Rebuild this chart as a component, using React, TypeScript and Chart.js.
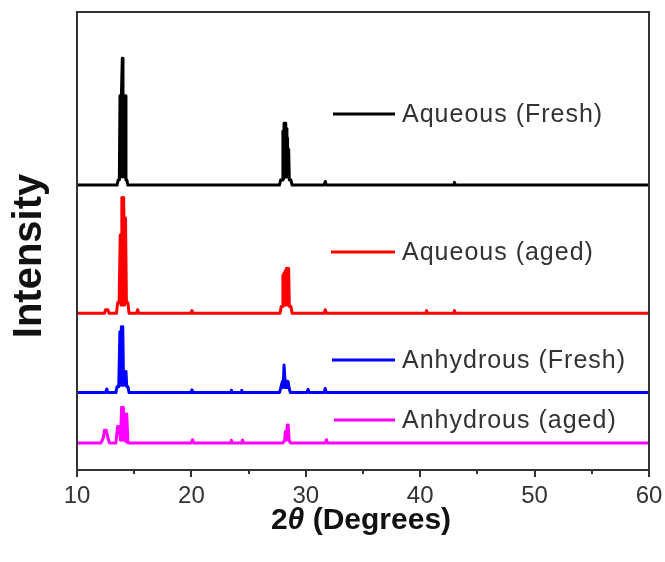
import React, { useEffect, useRef } from "react";
import { Chart, registerables } from "chart.js";

Chart.register(...registerables);

// 2θ (degrees), offset intensity (a.u.)
const aqueousFresh: [number, number][] = [
  [10, 62.2], [13.5, 62.2], [13.6, 63.3], [13.7, 63.3],
  [13.76, 81.7], [13.82, 64], [13.88, 81.7], [13.96, 89.9], [14.02, 64],
  [14.08, 81.7], [14.14, 64], [14.22, 81.7], [14.28, 63.3], [14.36, 63.3], [14.45, 62.2],
  [27.7, 62.2], [27.8, 63.3], [27.95, 63.3], [28.0, 74], [28.05, 63.5],
  [28.1, 75.7], [28.15, 64], [28.2, 75.7], [28.25, 64], [28.3, 74.5], [28.35, 64],
  [28.4, 72.5], [28.45, 64], [28.5, 70], [28.56, 63.3], [28.7, 63.3], [28.8, 62.2],
  [31.6, 62.2], [31.7, 63.0], [31.8, 62.2],
  [42.95, 62.2], [43.0, 62.8], [43.05, 62.2], [60, 62.2],
];

const aqueousAged: [number, number][] = [
  [10, 34.2], [12.4, 34.2], [12.5, 35.0], [12.7, 35.0], [12.8, 34.2],
  [13.45, 34.2], [13.55, 36.5], [13.68, 36.5], [13.78, 51.3], [13.85, 36],
  [13.92, 59.5], [14.0, 36], [14.08, 59.5], [14.16, 36], [14.24, 55], [14.32, 36.5],
  [14.45, 36.5], [14.55, 34.2], [15.2, 34.2], [15.3, 35], [15.4, 34.2],
  [19.95, 34.2], [20.05, 34.8], [20.15, 34.2],
  [27.75, 34.2], [27.85, 35.7], [27.95, 35.7], [28.0, 42.6], [28.05, 36],
  [28.1, 43], [28.15, 36], [28.2, 43.5], [28.25, 36], [28.3, 44], [28.35, 36],
  [28.4, 44], [28.45, 36], [28.5, 44], [28.56, 35.7], [28.7, 35.7], [28.8, 34.2],
  [31.6, 34.2], [31.7, 35.0], [31.8, 34.2],
  [40.5, 34.2], [40.56, 34.8], [40.62, 34.2],
  [42.95, 34.2], [43.0, 34.8], [43.05, 34.2], [60, 34.2],
];

const anhydrousFresh: [number, number][] = [
  [10, 16.9], [12.5, 16.9], [12.6, 17.7], [12.7, 16.9],
  [13.4, 16.9], [13.5, 18.2], [13.65, 18.2], [13.75, 30.2], [13.82, 18.5],
  [13.88, 31.3], [13.95, 18.5], [14.0, 31.3], [14.07, 18.5], [14.15, 21.5],
  [14.22, 18.5], [14.28, 21.5], [14.35, 18.2], [14.45, 18.2], [14.55, 16.9],
  [19.95, 16.9], [20.05, 17.5], [20.15, 16.9],
  [23.45, 16.9], [23.5, 17.4], [23.55, 16.9],
  [24.35, 16.9], [24.4, 17.4], [24.45, 16.9],
  [27.7, 16.9], [27.8, 17.8], [27.95, 19.3], [28.02, 18], [28.1, 22.9],
  [28.16, 22.9], [28.22, 18], [28.3, 19.5], [28.38, 18], [28.45, 19.3],
  [28.55, 17.8], [28.65, 16.9],
  [30.1, 16.9], [30.2, 17.6], [30.3, 16.9],
  [31.6, 16.9], [31.7, 17.8], [31.8, 16.9], [60, 16.9],
];

const anhydrousAged: [number, number][] = [
  [10, 5.9], [12.1, 5.9], [12.3, 7.0], [12.4, 8.7], [12.55, 8.7], [12.7, 7.0],
  [12.85, 5.9], [13.4, 5.9], [13.55, 9.5], [13.7, 9.5], [13.8, 6.5],
  [13.9, 13.7], [13.98, 6.5], [14.05, 13.7], [14.12, 6.5], [14.2, 12.2],
  [14.28, 6.2], [14.35, 12.2], [14.45, 5.9],
  [20.0, 5.9], [20.1, 6.6], [20.2, 5.9],
  [23.45, 5.9], [23.5, 6.5], [23.55, 5.9],
  [24.4, 5.9], [24.45, 6.5], [24.5, 5.9],
  [28.0, 5.9], [28.15, 6.5], [28.22, 8.4], [28.3, 6.5], [28.38, 9.8],
  [28.46, 9.8], [28.55, 6.5], [28.65, 5.9],
  [31.7, 5.9], [31.8, 6.6], [31.9, 5.9], [60, 5.9],
];

const seriesNames = ["Aqueous (Fresh)", "Aqueous (aged)", "Anhydrous (Fresh)", "Anhydrous (aged)"];
const seriesColors = ["#000000", "#ff0000", "#0000ff", "#ff00ff"];
const seriesData = [aqueousFresh, aqueousAged, anhydrousFresh, anhydrousAged];

const majorTicks = [10, 20, 30, 40, 50, 60];
const minorTicks = [15, 25, 35, 45, 55];

const FONT = "'Liberation Sans', Arial, sans-serif";

const decorPlugin = {
  id: "decor",
  afterDraw(chart: any) {
    const { ctx, chartArea: a, scales } = chart;
    const xs = scales.x;
    ctx.save();
    // frame
    ctx.strokeStyle = "#333333";
    ctx.lineWidth = 2;
    ctx.strokeRect(a.left, a.top, a.right - a.left, a.bottom - a.top);
    // ticks (outward)
    ctx.beginPath();
    majorTicks.forEach((v) => {
      const px = Math.round(xs.getPixelForValue(v));
      ctx.moveTo(px, a.bottom);
      ctx.lineTo(px, a.bottom + 7);
    });
    minorTicks.forEach((v) => {
      const px = Math.round(xs.getPixelForValue(v));
      ctx.moveTo(px, a.bottom);
      ctx.lineTo(px, a.bottom + 4);
    });
    ctx.stroke();

    // legend entries
    const legendY = [114, 252, 360, 420];
    const lineX0 = [333, 331, 332, 334];
    ctx.font = `25px ${FONT}`;
    ctx.textBaseline = "middle";
    ctx.textAlign = "left";
    seriesNames.forEach((name, i) => {
      ctx.strokeStyle = seriesColors[i];
      ctx.lineWidth = 3;
      ctx.beginPath();
      ctx.moveTo(lineX0[i], legendY[i]);
      ctx.lineTo(395, legendY[i]);
      ctx.stroke();
      ctx.fillStyle = "#333333";
      (ctx as any).letterSpacing = "1px";
      ctx.fillText(name, 402, legendY[i] + 1);
      (ctx as any).letterSpacing = "0px";
    });

    // y title
    ctx.save();
    ctx.translate(30, 256);
    ctx.rotate(-Math.PI / 2);
    ctx.font = `bold 40px ${FONT}`;
    ctx.fillStyle = "#111111";
    ctx.textAlign = "center";
    ctx.textBaseline = "middle";
    ctx.fillText("Intensity", 0, 0);
    ctx.restore();

    // x title: 2θ (Degrees)
    const parts = [
      { t: "2", f: `bold 30px ${FONT}` },
      { t: "θ", f: `italic bold 30px ${FONT}` },
      { t: " (Degrees)", f: `bold 30px ${FONT}` },
    ];
    let total = 0;
    parts.forEach((p) => {
      ctx.font = p.f;
      total += ctx.measureText(p.t).width;
    });
    let x = 361 - total / 2;
    ctx.fillStyle = "#111111";
    ctx.textAlign = "left";
    ctx.textBaseline = "middle";
    parts.forEach((p) => {
      ctx.font = p.f;
      ctx.fillText(p.t, x, 521);
      x += ctx.measureText(p.t).width;
    });
    ctx.restore();
  },
};

export default function App() {
  const ref = useRef<HTMLCanvasElement>(null);
  useEffect(() => {
    if (!ref.current) return;
    const chart = new Chart(ref.current, {
      type: "line",
      data: {
        datasets: seriesData.map((d, i) => ({
          label: seriesNames[i],
          data: d.map(([x, y]) => ({ x, y })),
          borderColor: seriesColors[i],
          backgroundColor: seriesColors[i],
          borderWidth: 3,
          borderJoinStyle: "round" as const,
          borderCapStyle: "round" as const,
          pointRadius: 0,
          tension: 0,
          fill: false,
        })),
      },
      options: {
        responsive: false,
        animation: false,
        layout: { padding: { left: 77, right: 16, top: 12, bottom: 0 } },
        plugins: { legend: { display: false }, tooltip: { enabled: false } },
        scales: {
          x: {
            type: "linear",
            min: 10,
            max: 60,
            grid: { display: false, drawTicks: false },
            border: { display: false },
            ticks: {
              stepSize: 10,
              padding: 12,
              color: "#333333",
              font: { family: FONT, size: 24 },
              maxRotation: 0,
            },
            afterFit: (s: any) => {
              s.height = 92;
              s.paddingLeft = 0;
              s.paddingRight = 0;
            },
          },
          y: { type: "linear", min: 0, max: 100, display: false },
        },
      },
      plugins: [decorPlugin],
    });
    return () => chart.destroy();
  }, []);
  return (
    <canvas
      ref={ref}
      width={665}
      height={562}
      style={{ position: "absolute", left: 0, top: 0, width: 665, height: 562 }}
    />
  );
}
